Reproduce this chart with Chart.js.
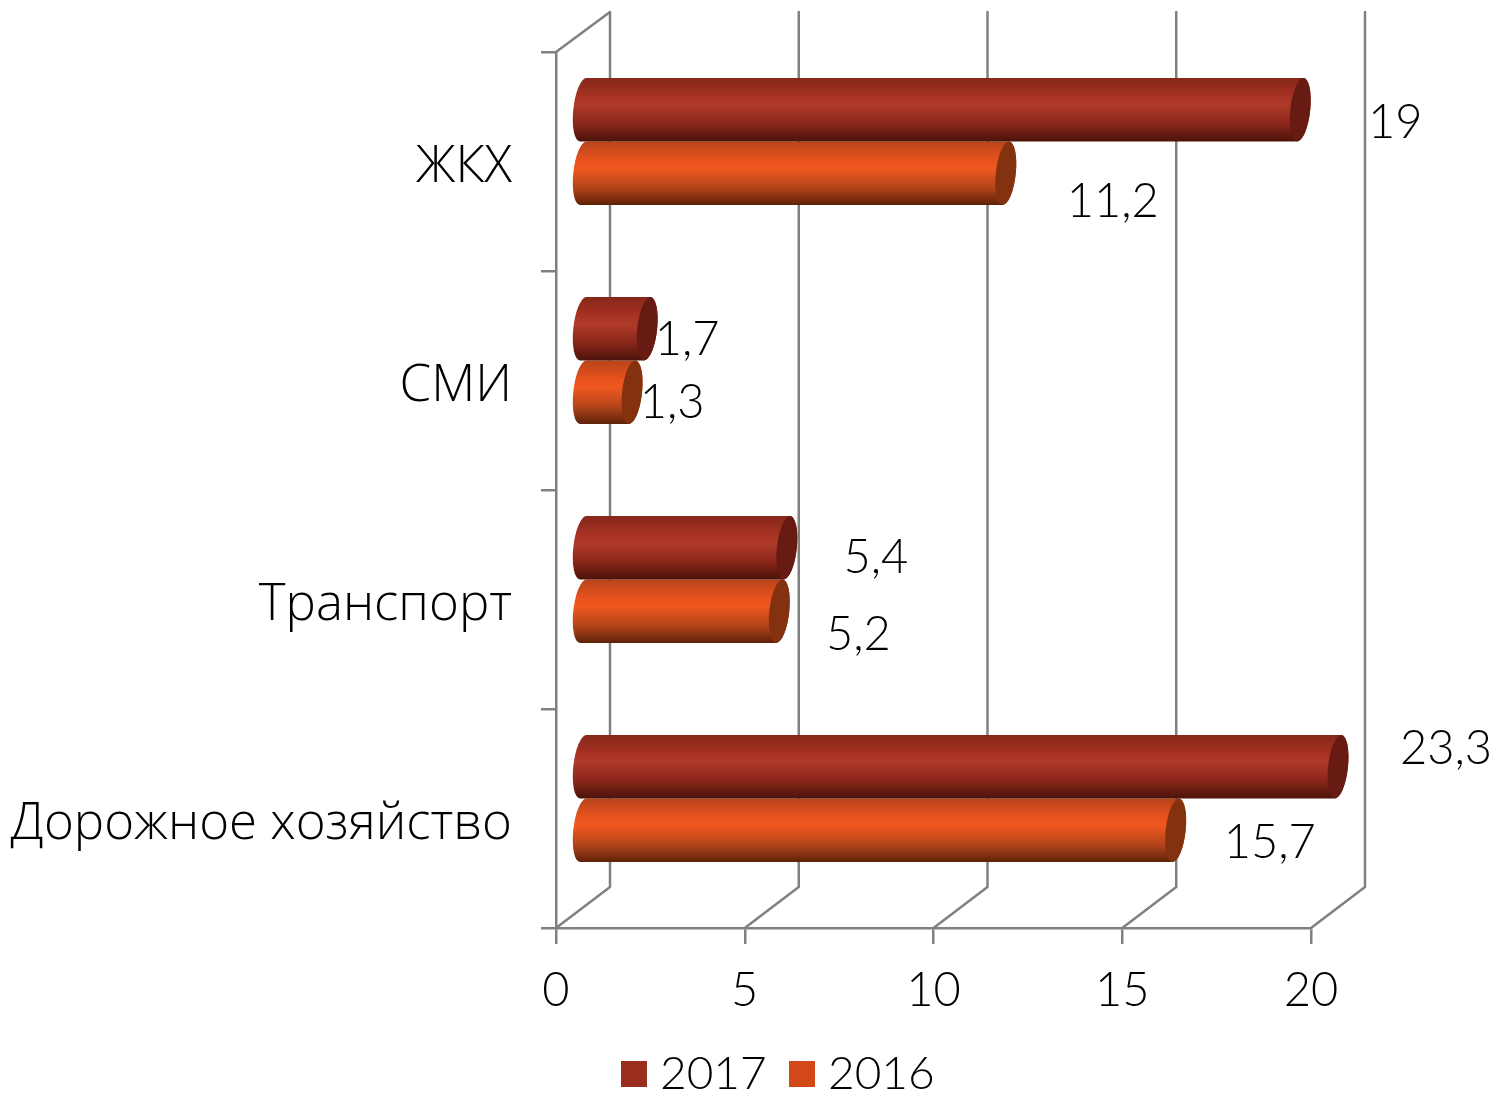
<!DOCTYPE html>
<html><head><meta charset="utf-8">
<style>html,body{margin:0;padding:0;background:#fff}canvas{display:block}</style>
<script src="https://cdn.jsdelivr.net/npm/chart.js@4/dist/chart.umd.min.js"></script>
</head><body>
<canvas id="c" width="1497" height="1094"></canvas>
<script>
const categories = ["ЖКХ","СМИ","Транспорт","Дорожное хозяйство"];
const seriesNames = ["2017","2016"];
const values2017 = [19,1.7,5.4,23.3];
const values2016 = [11.2,1.3,5.2,15.7];
const xTicks = [0,5,10,15,20];

const FONT = "Lato";
const CAT_FONT = "Open Sans";
const GRID = "#808080";
const DEPTH_X = 54, DEPTH_Y = 41, BAR_DX = 27, BAR_DY = 20, CAP_RX = 10;
const labelNudge = [
  [[95,13],[40,11],[89,10],[108,-18]],
  [[107,29],[40,11],[79,24],[94,13]]
];
const looks = [
  {stops:["#85271a","#a83223","#b03a2a","#8a2619","#4a130b"],cap:"#671b13"},
  {stops:["#b8441a","#e8521e","#f0581f","#b5451a","#5e2208"],cap:"#84310f"}
];
const stopAt = [0,0.3,0.42,0.72,1];

function fmt(v){return String(v).replace(".",",");}

const cylinders = {
  id:"cylinders",
  beforeDatasetsDraw(chart){
    const {ctx,scales:{x,y}} = chart;
    const b = y.bottom, t = y.top;
    ctx.save();
    ctx.strokeStyle = GRID; ctx.lineWidth = 2.5; ctx.lineCap="round"; ctx.lineJoin="round";
    xTicks.forEach(v=>{
      const p = x.getPixelForValue(v);
      ctx.beginPath();
      ctx.moveTo(p,b); ctx.lineTo(p+DEPTH_X,b-DEPTH_Y); ctx.lineTo(p+DEPTH_X,t-DEPTH_Y+1);
      ctx.stroke();
    });
    const p0 = x.getPixelForValue(0);
    ctx.beginPath(); ctx.moveTo(p0,t); ctx.lineTo(p0+DEPTH_X,t-DEPTH_Y+1); ctx.stroke();
    ctx.restore();
  },
  beforeDatasetDraw(chart,args){
    const {ctx,scales:{x}} = chart;
    const look = looks[args.index];
    const limit = x.getPixelForValue(xTicks[xTicks.length-1]);
    chart.getDatasetMeta(args.index).data.forEach(bar=>{
      const h = bar.height, cy = bar.y-BAR_DY, top = cy-h/2, bottom = cy+h/2;
      const x0 = bar.base+BAR_DX-1, x1 = Math.min(bar.x,limit)+BAR_DX;
      const g = ctx.createLinearGradient(0,top,0,bottom);
      look.stops.forEach((c,i)=>g.addColorStop(stopAt[i],c));
      ctx.save();
      ctx.transform(1,0,-0.1,1,0.1*cy,0);
      ctx.fillStyle = g;
      ctx.beginPath();
      ctx.moveTo(x1,top);
      ctx.lineTo(x0,top);
      ctx.ellipse(x0,cy,CAP_RX,h/2,0,-Math.PI/2,Math.PI/2,true);
      ctx.lineTo(x1,bottom);
      ctx.ellipse(x1,cy,CAP_RX,h/2,0,Math.PI/2,-Math.PI/2,true);
      ctx.closePath();
      ctx.fill();
      ctx.fillStyle = look.cap;
      ctx.beginPath();
      ctx.ellipse(x1,cy,CAP_RX,h/2,0,0,Math.PI*2);
      ctx.fill();
      ctx.restore();
    });
    return false;
  },
  afterDatasetsDraw(chart){
    const {ctx,scales:{x}} = chart;
    const limit = x.getPixelForValue(xTicks[xTicks.length-1]);
    ctx.save();
    ctx.font = "300 47px "+FONT; ctx.fillStyle="#000"; ctx.textAlign="center"; ctx.textBaseline="middle";
    chart.data.datasets.forEach((ds,i)=>{
      chart.getDatasetMeta(i).data.forEach((bar,j)=>{
        const n = labelNudge[i][j];
        ctx.fillText(fmt(ds.data[j]),Math.min(bar.x,limit)+BAR_DX+n[0],bar.y-BAR_DY+n[1]);
      });
    });
    ctx.restore();
  },
  afterDraw(chart){
    const {ctx} = chart;
    ctx.save();
    ctx.font = "300 46px "+FONT; ctx.textBaseline="middle"; ctx.textAlign="left";
    const starts = [621,789];
    chart.data.datasets.forEach((ds,i)=>{
      ctx.fillStyle = ds.backgroundColor;
      ctx.fillRect(starts[i],1061,26,26);
      ctx.fillStyle = "#000";
      ctx.fillText(ds.label,starts[i]+39,1074);
    });
    ctx.restore();
  }
};

new Chart(document.getElementById("c"),{
  type:"bar",
  data:{labels:categories,datasets:[
    {label:seriesNames[0],data:values2017,backgroundColor:"#9b2d1f"},
    {label:seriesNames[1],data:values2016,backgroundColor:"#d34817"}
  ]},
  plugins:[cylinders],
  options:{
    indexAxis:"y",responsive:false,animation:false,devicePixelRatio:1,
    layout:{padding:{top:52,right:186,bottom:0,left:0}},
    datasets:{bar:{categoryPercentage:0.58,barPercentage:1}},
    plugins:{legend:{display:false},tooltip:{enabled:false}},
    scales:{
      x:{type:"linear",min:0,max:20,
        afterFit(s){s.height=166;},
        afterBuildTicks(s){s.ticks=xTicks.map(v=>({value:v}));},
        grid:{drawOnChartArea:false,drawTicks:true,tickLength:16,color:GRID,lineWidth:2.5},
        border:{display:true,color:GRID,width:2.5},
        ticks:{color:"#000",font:{family:FONT,size:47,weight:300},padding:19,maxRotation:0}},
      y:{
        afterFit(s){s.width=556;s.paddingTop=0;s.paddingBottom=0;},
        grid:{drawOnChartArea:false,drawTicks:true,tickLength:15,color:GRID,lineWidth:2.5},
        border:{display:true,color:GRID,width:2.5},
        ticks:{color:"#000",font:{family:CAT_FONT,size:51,weight:300},padding:29,labelOffset:6}}
    }
  }
});
</script>
</body></html>
